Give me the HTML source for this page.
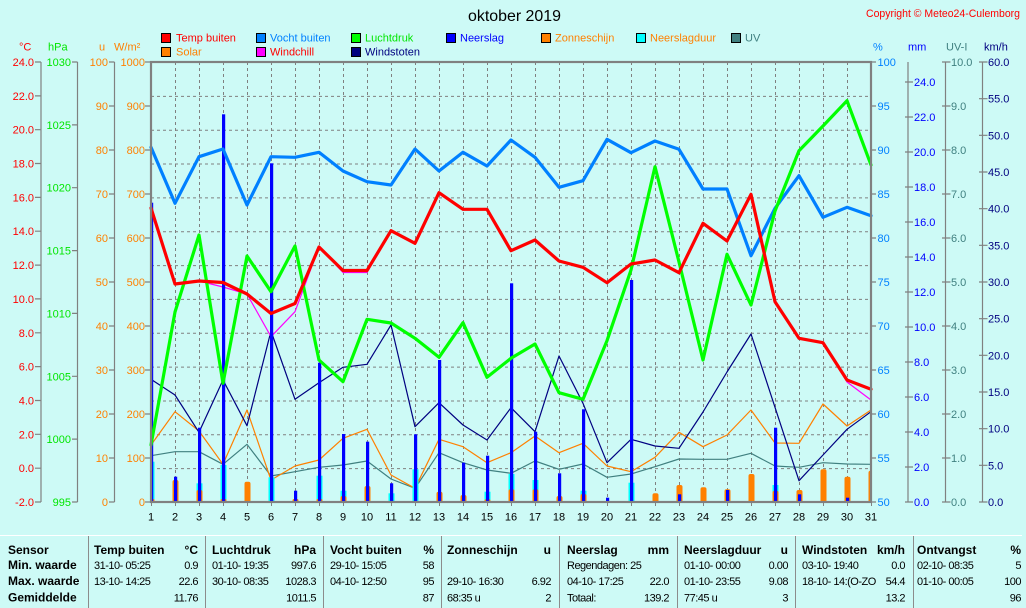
<!DOCTYPE html>
<html><head><meta charset="utf-8"><style>
html,body{margin:0;padding:0;background:#CDFAF6;}
svg{display:block;font-family:"Liberation Sans",Arial,sans-serif;}
.v{font-size:11px;letter-spacing:-0.5px;}
.b{font-size:12px;font-weight:bold;}
</style></head><body>
<svg width="1026" height="608" viewBox="0 0 1026 608" xmlns="http://www.w3.org/2000/svg">
<rect x="0" y="0" width="1026" height="608" fill="#CDFAF6"/>
<defs><clipPath id="pc"><rect x="151" y="62" width="720" height="440"/></clipPath></defs>

<!-- grid -->
<g stroke="#808080" stroke-width="1" stroke-dasharray="3,3" fill="none">
<path d="M151 96.35H871M151 130.2H871M151 164.04H871M151 197.9H871M151 231.73H871M151 265.58H871M151 299.42H871M151 333.27H871M151 367.1H871M151 400.96H871M151 434.8H871M151 468.65H871"/>
<path d="M175.5 62V502M199.5 62V502M223.5 62V502M247.5 62V502M271.5 62V502M295.5 62V502M319.5 62V502M343.5 62V502M367.5 62V502M391.5 62V502M415.5 62V502M439.5 62V502M463.5 62V502M487.5 62V502M511.5 62V502M535.5 62V502M559.5 62V502M583.5 62V502M607.5 62V502M631.5 62V502M655.5 62V502M679.5 62V502M703.5 62V502M727.5 62V502M751.5 62V502M775.5 62V502M799.5 62V502M823.5 62V502M847.5 62V502"/>
</g>

<!-- thin lines -->
<g fill="none" stroke-width="1.2" stroke-linejoin="round">
<polyline stroke="#408080" points="151,455.7 175,451.7 199,451.7 223,464.3 247,444.3 271,476 295,471.7 319,467.3 343,465 367,461 391,479 415,488.3 439,452.7 463,462.7 487,470 511,473.3 535,461 559,469.3 583,464 607,477.3 631,474 655,466.7 679,459 703,459.3 727,459.3 751,453.3 775,466 799,467.3 823,462.7 847,464 871,464.3"/>
<polyline stroke="#FF8000" points="151,445 175,411.7 199,431 223,464.3 247,410 271,480 295,466 319,460 343,438.3 367,429.3 391,475 415,488.3 439,439.3 463,446.7 487,462.7 511,452.7 535,436 559,452.7 583,443.3 607,466 631,471.7 655,457.3 679,432.3 703,446.7 727,435 751,410 775,443 799,443.3 823,404 847,426 871,410"/>
<polyline stroke="#000080" points="151,379.3 175,395 199,432.3 223,380 247,425.7 271,331 295,399.3 319,382.7 343,367.3 367,364.3 391,325 415,426.7 439,402.7 463,425 487,440 511,407.7 535,431.7 559,356 583,403.3 607,462.7 631,439.3 655,446 679,448.3 703,412 727,372 751,334 775,407.3 799,480.7 823,455 847,429.3 871,411.7"/>
<polyline stroke="#FF00FF" points="151,208 175,284 199,281 223,287 247,294 271,336.7 295,311.7 319,247 343,272.5 367,272.5 391,230.7 415,243.3 439,192.7 463,209.3 487,209.3 511,250.7 535,240 559,261 583,267.3 607,282.7 631,264 655,260 679,272.7 703,223.3 727,241 751,194.3 775,301.7 799,338.3 823,342.7 847,382 871,400"/>
</g>

<!-- bars -->
<g clip-path="url(#pc)">
<g fill="#00FFFF">
<rect x="148.5" y="461.7" width="6" height="40.3"/>
<rect x="196.5" y="483.3" width="6" height="18.7"/>
<rect x="220.5" y="465" width="6" height="37"/>
<rect x="268.5" y="477.3" width="6" height="24.7"/>
<rect x="316.5" y="475.7" width="6" height="26.3"/>
<rect x="340.5" y="490.7" width="6" height="11.3"/>
<rect x="388.5" y="493.3" width="6" height="8.7"/>
<rect x="412.5" y="469.3" width="6" height="32.7"/>
<rect x="484.5" y="491.7" width="6" height="10.3"/>
<rect x="508.5" y="474" width="6" height="28"/>
<rect x="532.5" y="480" width="6" height="22"/>
<rect x="580.5" y="490.7" width="6" height="11.3"/>
<rect x="628.5" y="482.7" width="6" height="19.3"/>
<rect x="772.5" y="485" width="6" height="17"/>
</g>
<g fill="#FF8000">
<rect x="148.5" y="499" width="6" height="4" rx="1.5"/>
<rect x="172.5" y="480" width="6" height="23" rx="2"/>
<rect x="196.5" y="490" width="6" height="13" rx="2"/>
<rect x="220.5" y="499" width="6" height="4" rx="1.5"/>
<rect x="244.5" y="481.7" width="6" height="21.3" rx="2"/>
<rect x="292.5" y="499" width="6" height="4" rx="1.5"/>
<rect x="316.5" y="499" width="6" height="4" rx="1.5"/>
<rect x="340.5" y="496" width="6" height="7" rx="2"/>
<rect x="364.5" y="486" width="6" height="17" rx="2"/>
<rect x="436.5" y="491.7" width="6" height="11.3" rx="2"/>
<rect x="460.5" y="495" width="6" height="8" rx="2"/>
<rect x="484.5" y="499.3" width="6" height="4" rx="1.5"/>
<rect x="508.5" y="489.3" width="6" height="13.7" rx="2"/>
<rect x="532.5" y="489.3" width="6" height="13.7" rx="2"/>
<rect x="556.5" y="496" width="6" height="7" rx="2"/>
<rect x="580.5" y="494" width="6" height="9" rx="2"/>
<rect x="652.5" y="493.3" width="6" height="9.7" rx="2"/>
<rect x="676.5" y="485" width="6" height="18" rx="2"/>
<rect x="700.5" y="487.3" width="6" height="15.7" rx="2"/>
<rect x="724.5" y="489.3" width="6" height="13.7" rx="2"/>
<rect x="748.5" y="474" width="6" height="29" rx="2"/>
<rect x="772.5" y="490.7" width="6" height="12.3" rx="2"/>
<rect x="796.5" y="490" width="6" height="13" rx="2"/>
<rect x="820.5" y="469.3" width="6" height="33.7" rx="2"/>
<rect x="844.5" y="476.7" width="6" height="26.3" rx="2"/>
<rect x="868.5" y="470.7" width="6" height="32.3" rx="2"/>
</g>
<g fill="#0000FF">
<rect x="150" y="202.7" width="3.2" height="299.3"/>
<rect x="174" y="476.7" width="3.2" height="25.3"/>
<rect x="198" y="427.7" width="3.2" height="74.3"/>
<rect x="222" y="114.3" width="3.2" height="387.7"/>
<rect x="270" y="163.3" width="3.2" height="338.7"/>
<rect x="294" y="490.7" width="3.2" height="11.3"/>
<rect x="318" y="362.7" width="3.2" height="139.3"/>
<rect x="342" y="434" width="3.2" height="68"/>
<rect x="366" y="441.7" width="3.2" height="60.3"/>
<rect x="390" y="483.3" width="3.2" height="18.7"/>
<rect x="414" y="434.3" width="3.2" height="67.7"/>
<rect x="438" y="360" width="3.2" height="142"/>
<rect x="462" y="462.7" width="3.2" height="39.3"/>
<rect x="486" y="455.7" width="3.2" height="46.3"/>
<rect x="510" y="283.3" width="3.2" height="218.7"/>
<rect x="534" y="431.7" width="3.2" height="70.3"/>
<rect x="558" y="473.3" width="3.2" height="28.7"/>
<rect x="582" y="409.3" width="3.2" height="92.7"/>
<rect x="606" y="497.7" width="3.2" height="4.3"/>
<rect x="630" y="280" width="3.2" height="222"/>
<rect x="678" y="494.3" width="3.2" height="7.7"/>
<rect x="726" y="490" width="3.2" height="12"/>
<rect x="774" y="427.7" width="3.2" height="74.3"/>
<rect x="798" y="494.3" width="3.2" height="7.7"/>
<rect x="846" y="497.7" width="3.2" height="4.3"/>
</g>
</g>

<!-- thick lines -->
<g fill="none" stroke-width="3.2" stroke-linejoin="round" stroke-linecap="round">
<polyline stroke="#0080FF" points="151,147.3 175,203.3 199,156.7 223,149 247,205 271,156.7 295,157.3 319,152.3 343,171 367,181.7 391,185 415,149 439,171 463,152.3 487,166 511,140 535,157.3 559,187.3 583,180.7 607,139.3 631,152.7 655,141 679,149.3 703,189 727,189 751,255.7 775,208.3 799,175.7 823,217.3 847,207.3 871,215.7"/>
<polyline stroke="#00FF00" points="151,445 175,312 199,235 223,383.3 247,256 271,291.7 295,246 319,360 343,381.7 367,319.3 391,323 415,338.3 439,357.3 463,322.7 487,377.3 511,358.3 535,344 559,392.7 583,399.3 607,340.7 631,270 655,166.7 679,262 703,360 727,254.3 751,305 775,211 799,150.7 823,126 847,100.7 871,165"/>
<polyline stroke="#FF0000" points="151,208 175,284 199,281 223,282.5 247,294 271,313.5 295,303.5 319,247 343,270.5 367,270.5 391,230.7 415,243.3 439,192.7 463,209.3 487,209.3 511,250.7 535,240 559,261 583,267.3 607,282.7 631,264 655,260 679,272.7 703,223.3 727,241 751,194.3 775,301.7 799,338.3 823,342.7 847,380 871,389.3"/>
</g>

<!-- frame -->
<rect x="151" y="62" width="720" height="440" fill="none" stroke="#808080" stroke-width="2.2"/>

<!-- bottom ticks -->
<path stroke="#808080" stroke-width="1" d="M151.5 502V506M175.5 502V506M199.5 502V506M223.5 502V506M247.5 502V506M271.5 502V506M295.5 502V506M319.5 502V506M343.5 502V506M367.5 502V506M391.5 502V506M415.5 502V506M439.5 502V506M463.5 502V506M487.5 502V506M511.5 502V506M535.5 502V506M559.5 502V506M583.5 502V506M607.5 502V506M631.5 502V506M655.5 502V506M679.5 502V506M703.5 502V506M727.5 502V506M751.5 502V506M775.5 502V506M799.5 502V506M823.5 502V506M847.5 502V506M871.5 502V506"/>

<!-- x labels -->
<g font-size="11" fill="#000" text-anchor="middle">
<text x="151" y="520.5">1</text><text x="175" y="520.5">2</text><text x="199" y="520.5">3</text><text x="223" y="520.5">4</text><text x="247" y="520.5">5</text><text x="271" y="520.5">6</text><text x="295" y="520.5">7</text><text x="319" y="520.5">8</text><text x="343" y="520.5">9</text><text x="367" y="520.5">10</text><text x="391" y="520.5">11</text><text x="415" y="520.5">12</text><text x="439" y="520.5">13</text><text x="463" y="520.5">14</text><text x="487" y="520.5">15</text><text x="511" y="520.5">16</text><text x="535" y="520.5">17</text><text x="559" y="520.5">18</text><text x="583" y="520.5">19</text><text x="607" y="520.5">20</text><text x="631" y="520.5">21</text><text x="655" y="520.5">22</text><text x="679" y="520.5">23</text><text x="703" y="520.5">24</text><text x="727" y="520.5">25</text><text x="751" y="520.5">26</text><text x="775" y="520.5">27</text><text x="799" y="520.5">28</text><text x="823" y="520.5">29</text><text x="847" y="520.5">30</text><text x="871" y="520.5">31</text>
</g>

<!-- left axes lines & ticks -->
<g stroke="#808080" stroke-width="1.2" fill="none">
<path d="M41 62V502M77.5 62V502M114.5 62V502"/>
<path d="M35 62H41M35 95.85H41M35 129.7H41M35 163.5H41M35 197.4H41M35 231.2H41M35 265.1H41M35 298.9H41M35 332.8H41M35 366.6H41M35 400.5H41M35 434.3H41M35 468.2H41M35 502H41"/>
<path d="M72 62H77.5M72 124.86H77.5M72 187.7H77.5M72 250.6H77.5M72 313.4H77.5M72 376.3H77.5M72 439.1H77.5M72 502H77.5"/>
<path d="M109 62H114.5M109 106H114.5M109 150H114.5M109 194H114.5M109 238H114.5M109 282H114.5M109 326H114.5M109 370H114.5M109 414H114.5M109 458H114.5M109 502H114.5"/>
<path d="M145 62H151M145 106H151M145 150H151M145 194H151M145 238H151M145 282H151M145 326H151M145 370H151M145 414H151M145 458H151M145 502H151"/>
</g>

<!-- right axes lines & ticks -->
<g stroke="#808080" stroke-width="1.2" fill="none">
<path d="M871 62H876M871 106H876M871 150H876M871 194H876M871 238H876M871 282H876M871 326H876M871 370H876M871 414H876M871 458H876M871 502H876"/>
<path d="M908 62V502"/>
<path d="M905 82H913M905 117H913M905 152H913M905 187H913M905 222H913M905 257H913M905 292H913M905 327H913M905 362H913M905 397H913M905 432H913M905 467H913M905 502H913"/>
<path d="M945.5 62V502"/>
<path d="M942 62H950.5M942 106H950.5M942 150H950.5M942 194H950.5M942 238H950.5M942 282H950.5M942 326H950.5M942 370H950.5M942 414H950.5M942 458H950.5M942 502H950.5"/>
<path d="M982.5 62V502"/>
<path d="M979 62H987.5M979 98.67H987.5M979 135.3H987.5M979 172H987.5M979 208.7H987.5M979 245.3H987.5M979 282H987.5M979 318.7H987.5M979 355.3H987.5M979 392H987.5M979 428.7H987.5M979 465.3H987.5M979 502H987.5"/>
</g>

<!-- left labels -->
<g font-size="11" fill="#FF0000" text-anchor="end">
<text x="34" y="66">24.0</text><text x="34" y="99.9">22.0</text><text x="34" y="133.7">20.0</text><text x="34" y="167.5">18.0</text><text x="34" y="201.4">16.0</text><text x="34" y="235.2">14.0</text><text x="34" y="269.1">12.0</text><text x="34" y="302.9">10.0</text><text x="34" y="336.8">8.0</text><text x="34" y="370.6">6.0</text><text x="34" y="404.5">4.0</text><text x="34" y="438.3">2.0</text><text x="34" y="472.2">0.0</text><text x="34" y="506">-2.0</text>
</g>
<g font-size="11" fill="#00E600" text-anchor="end">
<text x="71" y="66">1030</text><text x="71" y="128.9">1025</text><text x="71" y="191.7">1020</text><text x="71" y="254.6">1015</text><text x="71" y="317.4">1010</text><text x="71" y="380.3">1005</text><text x="71" y="443.1">1000</text><text x="71" y="506">995</text>
</g>
<g font-size="11" fill="#FF8000" text-anchor="end">
<text x="108" y="66">100</text><text x="108" y="110">90</text><text x="108" y="154">80</text><text x="108" y="198">70</text><text x="108" y="242">60</text><text x="108" y="286">50</text><text x="108" y="330">40</text><text x="108" y="374">30</text><text x="108" y="418">20</text><text x="108" y="462">10</text><text x="108" y="506">0</text>
<text x="145" y="66">1000</text><text x="145" y="110">900</text><text x="145" y="154">800</text><text x="145" y="198">700</text><text x="145" y="242">600</text><text x="145" y="286">500</text><text x="145" y="330">400</text><text x="145" y="374">300</text><text x="145" y="418">200</text><text x="145" y="462">100</text><text x="145" y="506">0</text>
</g>

<!-- right labels -->
<g font-size="11" fill="#0080FF">
<text x="877.5" y="66">100</text><text x="877.5" y="110">95</text><text x="877.5" y="154">90</text><text x="877.5" y="198">85</text><text x="877.5" y="242">80</text><text x="877.5" y="286">75</text><text x="877.5" y="330">70</text><text x="877.5" y="374">65</text><text x="877.5" y="418">60</text><text x="877.5" y="462">55</text><text x="877.5" y="506">50</text>
</g>
<g font-size="11" fill="#0000FF">
<text x="914" y="86">24.0</text><text x="914" y="121">22.0</text><text x="914" y="156">20.0</text><text x="914" y="191">18.0</text><text x="914" y="226">16.0</text><text x="914" y="261">14.0</text><text x="914" y="296">12.0</text><text x="914" y="331">10.0</text><text x="914" y="366">8.0</text><text x="914" y="401">6.0</text><text x="914" y="436">4.0</text><text x="914" y="471">2.0</text><text x="914" y="506">0.0</text>
</g>
<g font-size="11" fill="#408080">
<text x="951" y="66">10.0</text><text x="951" y="110">9.0</text><text x="951" y="154">8.0</text><text x="951" y="198">7.0</text><text x="951" y="242">6.0</text><text x="951" y="286">5.0</text><text x="951" y="330">4.0</text><text x="951" y="374">3.0</text><text x="951" y="418">2.0</text><text x="951" y="462">1.0</text><text x="951" y="506">0.0</text>
</g>
<g font-size="11" fill="#000080">
<text x="988" y="66">60.0</text><text x="988" y="102.7">55.0</text><text x="988" y="139.3">50.0</text><text x="988" y="176">45.0</text><text x="988" y="212.7">40.0</text><text x="988" y="249.3">35.0</text><text x="988" y="286">30.0</text><text x="988" y="322.7">25.0</text><text x="988" y="359.3">20.0</text><text x="988" y="396">15.0</text><text x="988" y="432.7">10.0</text><text x="988" y="469.3">5.0</text><text x="988" y="506">0.0</text>
</g>

<!-- unit headers -->
<g font-size="11">
<text x="19" y="50.5" fill="#FF0000">°C</text>
<text x="48" y="50.5" fill="#00E600">hPa</text>
<text x="99" y="50.5" fill="#FF8000">u</text>
<text x="114" y="50.5" fill="#FF8000">W/m²</text>
<text x="873" y="50.5" fill="#0080FF">%</text>
<text x="908" y="50.5" fill="#0000FF">mm</text>
<text x="946" y="50.5" fill="#408080">UV-I</text>
<text x="984" y="50.5" fill="#000080">km/h</text>
</g>

<!-- title & copyright -->
<text x="468" y="21" font-size="16" fill="#000" textLength="93" lengthAdjust="spacingAndGlyphs">oktober 2019</text>
<text x="866" y="17" font-size="11" fill="#FF0000" textLength="154" lengthAdjust="spacingAndGlyphs">Copyright © Meteo24-Culemborg</text>

<!-- legend -->
<g stroke="#000" stroke-width="1">
<rect x="161.5" y="33.5" width="9" height="9" fill="#FF0000"/>
<rect x="256.5" y="33.5" width="9" height="9" fill="#0080FF"/>
<rect x="351.5" y="33.5" width="9" height="9" fill="#00FF00"/>
<rect x="446.5" y="33.5" width="9" height="9" fill="#0000FF"/>
<rect x="541.5" y="33.5" width="9" height="9" fill="#FF8000"/>
<rect x="636.5" y="33.5" width="9" height="9" fill="#00FFFF"/>
<rect x="731.5" y="33.5" width="9" height="9" fill="#408080"/>
<rect x="161.5" y="47.5" width="9" height="9" fill="#FF8000"/>
<rect x="256.5" y="47.5" width="9" height="9" fill="#FF00FF"/>
<rect x="351.5" y="47.5" width="9" height="9" fill="#000080"/>
</g>
<g font-size="11">
<text x="176" y="41.5" fill="#FF0000">Temp buiten</text>
<text x="270" y="41.5" fill="#0080FF">Vocht buiten</text>
<text x="365" y="41.5" fill="#00E600">Luchtdruk</text>
<text x="460" y="41.5" fill="#0000FF">Neerslag</text>
<text x="555" y="41.5" fill="#FF8000">Zonneschijn</text>
<text x="650" y="41.5" fill="#FF8000">Neerslagduur</text>
<text x="745" y="41.5" fill="#408080">UV</text>
<text x="176" y="55.5" fill="#FF8000">Solar</text>
<text x="270" y="55.5" fill="#FF0000">Windchill</text>
<text x="365" y="55.5" fill="#000080">Windstoten</text>
</g>

<!-- table -->
<line x1="0" y1="535.5" x2="1022" y2="535.5" stroke="#FFFFFF" stroke-width="1"/>
<path stroke="#8C8C8C" stroke-width="1" d="M88.5 536V608M205.5 536V608M323.5 536V608M441.5 536V608M559.5 536V608M677.5 536V608M795.5 536V608M913.5 536V608"/>
<g fill="#000">
<text class="b" x="8" y="554">Sensor</text>
<text class="b" x="8" y="569">Min. waarde</text>
<text class="b" x="8" y="585">Max. waarde</text>
<text class="b" x="8" y="601.5">Gemiddelde</text>

<text class="b" x="94" y="554">Temp buiten</text>
<text class="b" x="198" y="554" text-anchor="end">°C</text>
<text class="v" x="94" y="569">31-10- 05:25</text>
<text class="v" x="198" y="569" text-anchor="end">0.9</text>
<text class="v" x="94" y="585">13-10- 14:25</text>
<text class="v" x="198" y="585" text-anchor="end">22.6</text>
<text class="v" x="198" y="601.5" text-anchor="end">11.76</text>

<text class="b" x="212" y="554">Luchtdruk</text>
<text class="b" x="316" y="554" text-anchor="end">hPa</text>
<text class="v" x="212" y="569">01-10- 19:35</text>
<text class="v" x="316" y="569" text-anchor="end">997.6</text>
<text class="v" x="212" y="585">30-10- 08:35</text>
<text class="v" x="316" y="585" text-anchor="end">1028.3</text>
<text class="v" x="316" y="601.5" text-anchor="end">1011.5</text>

<text class="b" x="330" y="554">Vocht buiten</text>
<text class="b" x="434" y="554" text-anchor="end">%</text>
<text class="v" x="330" y="569">29-10- 15:05</text>
<text class="v" x="434" y="569" text-anchor="end">58</text>
<text class="v" x="330" y="585">04-10- 12:50</text>
<text class="v" x="434" y="585" text-anchor="end">95</text>
<text class="v" x="434" y="601.5" text-anchor="end">87</text>

<text class="b" x="447" y="554">Zonneschijn</text>
<text class="b" x="551" y="554" text-anchor="end">u</text>
<text class="v" x="447" y="585">29-10- 16:30</text>
<text class="v" x="551" y="585" text-anchor="end">6.92</text>
<text class="v" x="447" y="601.5">68:35 u</text>
<text class="v" x="551" y="601.5" text-anchor="end">2</text>

<text class="b" x="567" y="554">Neerslag</text>
<text class="b" x="669" y="554" text-anchor="end">mm</text>
<text class="v" x="567" y="569">Regendagen: 25</text>
<text class="v" x="567" y="585">04-10- 17:25</text>
<text class="v" x="669" y="585" text-anchor="end">22.0</text>
<text class="v" x="567" y="601.5">Totaal:</text>
<text class="v" x="669" y="601.5" text-anchor="end">139.2</text>

<text class="b" x="684" y="554">Neerslagduur</text>
<text class="b" x="788" y="554" text-anchor="end">u</text>
<text class="v" x="684" y="569">01-10- 00:00</text>
<text class="v" x="788" y="569" text-anchor="end">0.00</text>
<text class="v" x="684" y="585">01-10- 23:55</text>
<text class="v" x="788" y="585" text-anchor="end">9.08</text>
<text class="v" x="684" y="601.5">77:45 u</text>
<text class="v" x="788" y="601.5" text-anchor="end">3</text>

<text class="b" x="802" y="554">Windstoten</text>
<text class="b" x="905" y="554" text-anchor="end">km/h</text>
<text class="v" x="802" y="569">03-10- 19:40</text>
<text class="v" x="905" y="569" text-anchor="end">0.0</text>
<text class="v" x="802" y="585">18-10- 14:(O-ZO</text>
<text class="v" x="905" y="585" text-anchor="end">54.4</text>
<text class="v" x="905" y="601.5" text-anchor="end">13.2</text>

<text class="b" x="917" y="554">Ontvangst</text>
<text class="b" x="1021" y="554" text-anchor="end">%</text>
<text class="v" x="917" y="569">02-10- 08:35</text>
<text class="v" x="1021" y="569" text-anchor="end">5</text>
<text class="v" x="917" y="585">01-10- 00:05</text>
<text class="v" x="1021" y="585" text-anchor="end">100</text>
<text class="v" x="1021" y="601.5" text-anchor="end">96</text>
</g>
</svg>
</body></html>
